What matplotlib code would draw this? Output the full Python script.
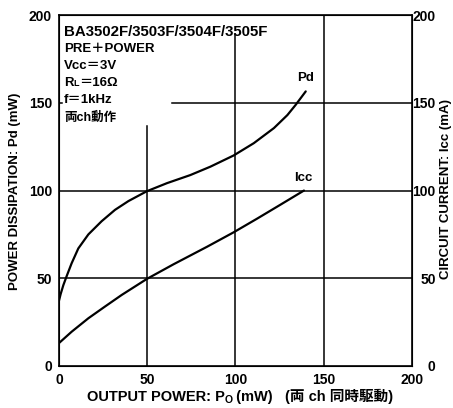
import matplotlib.pyplot as plt

plt.rcParams['font.family'] = ['Liberation Sans', 'Noto Sans CJK JP']
plt.rcParams['font.weight'] = 'bold'

# output power (mW) vs power dissipation (mW)
po_pd = [0, 1, 2.5, 4.4, 7.2, 11, 16.7, 24.2, 31.8, 39.4, 49.8,
         61.2, 74.4, 85.8, 99, 110.4, 121.8, 129.4, 134, 139.8]
pd = [37, 41, 46, 51.2, 58.5, 67, 75, 82.5, 89, 94, 99.6,
      104.2, 108.8, 113.6, 120, 127, 135.6, 143, 148.7, 156.5]
# output power (mW) vs circuit current (mA)
po_icc = [0, 7.2, 16.7, 26, 35.6, 49.8, 65, 84, 99, 112.3, 125.6, 138.8]
icc = [13, 19.5, 27.2, 33.8, 40.5, 49.6, 58, 68, 76.2, 84, 92, 100]

ticks = [0, 50, 100, 150, 200]

fig = plt.figure(figsize=(4.53, 4.08), dpi=100)
ax = fig.add_axes([0.130, 0.103, 0.7795, 0.860])
ax.set_xlim(0, 200)
ax.set_ylim(0, 200)
r = fig.canvas.get_renderer()
W, H = fig.bbox.width, fig.bbox.height


def runs(x, y, parts, center=False):
    # draw text pieces side by side (figure fraction), parts = (text, size, dy in pt)
    out = []
    cx = x
    for s, size, dy in parts:
        t = fig.text(cx, y + dy / 72 * fig.dpi / H, s, fontsize=size,
                     ha='left', va='baseline')
        cx += t.get_window_extent(r).width / W
        out.append(t)
    if center:
        shift = (cx - x) / 2
        for t in out:
            px, py = t.get_position()
            t.set_position((px - shift, py))
    return out


lw_grid = 1.1
# grid lines, some shortened where the condition text sits
ax.plot([50, 50], [0, 137], color='black', lw=lw_grid)
ax.plot([100, 100], [0, 189], color='black', lw=lw_grid)
ax.plot([150, 150], [0, 200], color='black', lw=lw_grid)
ax.plot([0, 200], [50, 50], color='black', lw=lw_grid)
ax.plot([0, 200], [100, 100], color='black', lw=lw_grid)
ax.plot([64, 200], [150, 150], color='black', lw=lw_grid)
ax.plot([0, 2], [150, 150], color='black', lw=lw_grid)

ax.plot(po_pd, pd, color='black', lw=1.6, solid_capstyle='round')
ax.plot(po_icc, icc, color='black', lw=1.6, solid_capstyle='round')
ax.text(135, 161, 'Pd', fontsize=9.5, ha='left', va='bottom')
ax.text(133.5, 104, 'Icc', fontsize=9.5, ha='left', va='bottom')

# condition block, top left
x0 = 64 / W
ys = [1 - (y + 4) / H for y in [32, 48.5, 65, 82, 99, 116.5]]
runs(x0, ys[0], [('BA3502F/3503F/3504F/3505F', 10.8, 0)])
runs(x0, ys[1], [('PRE＋POWER', 9.5, 0)])
runs(x0, ys[2], [('Vcc＝3V', 9.5, 0)])
runs(x0, ys[3], [('R', 9.5, 0), ('L', 6.5, 0), ('＝16Ω', 9.5, 0)])
runs(x0, ys[4], [('f＝1kHz', 9.5, 0)])
runs(x0, ys[5], [('両ch動作', 9, 0)])

for sp in ax.spines.values():
    sp.set_linewidth(1.2)

ax.set_xticks(ticks)
ax.set_yticks(ticks)
ax.tick_params(length=0, labelsize=10, pad=5)

ax2 = ax.twinx()
ax2.set_ylim(0, 200)
ax2.set_yticks(ticks)
ax2.tick_params(length=0, labelsize=10, pad=17)
for lbl in ax2.get_yticklabels():
    lbl.set_ha('right')

fig.text(15 / W, 1 - 191 / H, 'POWER DISSIPATION: Pd (mW)', fontsize=9.5,
         rotation=90, ha='center', va='center')
fig.text(445.5 / W, 1 - 189 / H, 'CIRCUIT CURRENT: Icc (mA)', fontsize=9.5,
         rotation=90, ha='center', va='center')

runs(240 / W, 1 - 401 / H, [('OUTPUT POWER: P', 10.5, 0), ('O', 7.5, -1.5),
                            (' (mW)   (両 ch 同時駆動)', 10.5, 0)], center=True)

fig.savefig('out.png', dpi=100)
